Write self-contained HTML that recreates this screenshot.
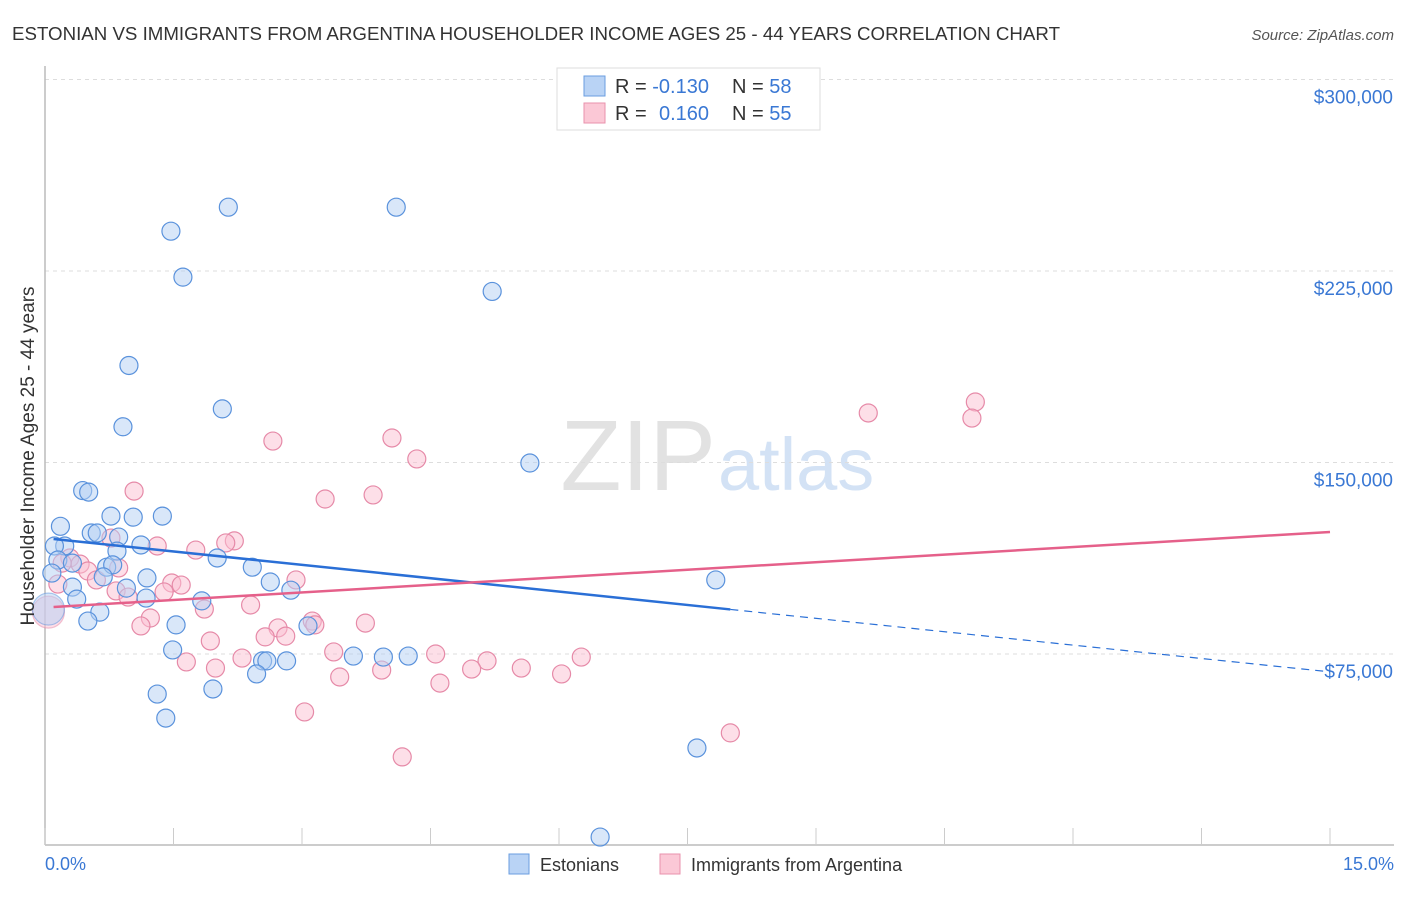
<!DOCTYPE html>
<html><head><meta charset="utf-8">
<style>
body{margin:0;background:#fff;font-family:"Liberation Sans",sans-serif;}
svg text{font-family:"Liberation Sans",sans-serif;}
</style></head>
<body>
<svg id="chart" width="1406" height="892" xmlns="http://www.w3.org/2000/svg">
<text x="12" y="40" font-size="18" fill="#333" textLength="1048" lengthAdjust="spacingAndGlyphs">ESTONIAN VS IMMIGRANTS FROM ARGENTINA HOUSEHOLDER INCOME AGES 25 - 44 YEARS CORRELATION CHART</text>
<text x="1394" y="40" font-size="15" fill="#555" font-style="italic" text-anchor="end">Source: ZipAtlas.com</text>
<text x="716" y="490" font-size="100" fill="#e2e2e2" font-family="Liberation Serif" text-anchor="end">ZIP</text>
<text x="718" y="490" font-size="74" fill="#d3e2f5">atlas</text>
<g id="grid"></g>
<g id="axes"></g>
<g id="pts"></g>
<g id="trend"></g>
<text transform="translate(34,456) rotate(-90)" font-size="19" fill="#333" text-anchor="middle">Householder Income Ages 25 - 44 years</text>
<text x="45" y="870" font-size="18" fill="#3a78d4">0.0%</text>
<text x="1394" y="870" font-size="18" fill="#3a78d4" text-anchor="end">15.0%</text>
<g>
<rect x="509" y="854" width="20" height="20" fill="#b9d3f5" stroke="#6a9ee0"/>
<text x="540" y="871" font-size="18" fill="#333">Estonians</text>
<rect x="660" y="854" width="20" height="20" fill="#fbc8d6" stroke="#e892ac"/>
<text x="691" y="871" font-size="18" fill="#333">Immigrants from Argentina</text>
</g>
<g>
<rect x="557" y="68" width="263" height="62" fill="#fff" stroke="#ddd"/>
<rect x="584" y="76" width="21" height="20" fill="#b9d3f5" stroke="#6a9ee0"/>
<text x="615" y="93" font-size="20" fill="#333">R = <tspan fill="#3a78d4">-0.130</tspan><tspan x="732">N = </tspan><tspan fill="#3a78d4">58</tspan></text>
<rect x="584" y="103" width="21" height="20" fill="#fbc8d6" stroke="#e892ac"/>
<text x="615" y="120" font-size="20" fill="#333">R = <tspan x="659" fill="#3a78d4">0.160</tspan><tspan x="732">N = </tspan><tspan fill="#3a78d4">55</tspan></text>
</g>
</svg>
<script>
const yTicks=[75000,150000,225000,300000];
const yTickLabels=["$75,000","$150,000","$225,000","$300,000"];
const blueX=[1.47,2.14,4.10,1.61,5.22,0.98,0.91,2.07,5.66,0.44,0.51,0.18,0.77,1.03,1.37,0.23,0.11,0.54,0.61,0.86,0.84,1.12,0.15,0.32,0.72,0.79,0.08,2.01,2.42,0.68,1.19,2.63,0.95,0.32,2.87,0.37,1.18,1.83,0.64,0.50,1.53,3.07,7.83,1.49,3.60,3.95,4.24,2.54,2.59,2.82,2.47,1.31,1.96,1.41,7.61,6.48,0.04];
const blueY=[240600,250000,250000,222600,217000,188000,164000,171000,149800,139000,138400,125000,129000,128600,129000,117300,117300,122400,122400,120800,115300,117700,111800,110600,109000,109900,106700,112600,109000,105200,104800,103200,100800,101200,100000,96500,96900,95800,91400,87900,86400,86000,104000,76600,74200,73800,74200,72300,72300,72300,67200,59300,61300,49900,38200,3300,92600];
const pinkX=[10.86,10.82,9.61,4.05,2.66,4.34,1.04,3.83,3.27,0.77,2.21,2.11,1.31,1.76,0.29,0.41,0.20,0.50,0.86,0.60,1.48,1.59,2.93,0.15,0.83,1.39,0.97,2.40,1.86,1.23,3.12,3.15,1.12,3.74,2.72,2.57,2.81,1.93,3.37,4.56,5.16,2.30,1.65,1.99,6.26,4.98,5.56,3.93,3.44,6.03,4.61,3.03,8.00,4.17,0.04];
const pinkY=[173700,167400,169400,159600,158400,151400,138800,137300,135700,120400,119300,118500,117300,115700,112600,110200,110600,107500,108700,104000,102800,102000,104000,102400,99700,99300,97300,94200,92600,89100,87900,86400,86000,87100,85200,81700,82000,80100,75800,75000,72300,73400,71900,69500,73800,69100,69500,68700,66000,67200,63600,52300,44100,34700,91400];
const blueTrend=[120400,68000], blueSolidEnd=8.0;
const pinkTrend=[93400,122800];
const NS="http://www.w3.org/2000/svg";
const xS=p=>45+p*(1330-45)/15;
const yS=v=>654-(v-75000)*191.5/75000;
function mk(tag,attrs,parent){const e=document.createElementNS(NS,tag);for(const k in attrs)e.setAttribute(k,attrs[k]);document.getElementById(parent).appendChild(e);return e;}
yTicks.forEach((t,i)=>{
 const l=mk('line',{x1:45,x2:1394,y1:yS(t),y2:yS(t),stroke:'#ddd','stroke-dasharray':'4,4'},'grid');
 
 
 const tx=mk('text',{x:1393,y:yS(t)+24,'font-size':19,fill:'#3a78d4','text-anchor':'end'},'grid');
 tx.textContent=yTickLabels[i];
 
 
});
const ax=mk('line',{x1:45,x2:1394,y1:845,y2:845,stroke:'#bbb','stroke-width':1.5},'axes');


const ay=mk('line',{x1:45,x2:45,y1:66,y2:845,stroke:'#bbb','stroke-width':1.5},'axes');


for(let i=0;i<=10;i++){const t=mk('line',{x1:xS(i*1.5),x2:xS(i*1.5),y1:828,y2:845,stroke:'#ccc'},'axes');
 
 }
function pts(X,Y,fill,stroke,name){X.forEach((x,i)=>{const big=(x<0.1&&i===X.length-1);
 const c=mk('circle',{cx:xS(x),cy:yS(Y[i]),r:big?16:9,fill:fill,'fill-opacity':0.5,stroke:stroke,'stroke-width':1.2,'stroke-opacity':big?0.5:1},'pts');
 
 });}
pts(pinkX,pinkY,'#fbc0d2','#e68aa8','argentina-point');
pts(blueX,blueY,'#b3cff3','#5a92dc','estonian-point');
const bv=p=>blueTrend[0]+(blueTrend[1]-blueTrend[0])*p/15;
const b1=mk('line',{x1:xS(0.1),y1:yS(bv(0.1)),x2:xS(blueSolidEnd),y2:yS(bv(blueSolidEnd)),stroke:'#2a6fd6','stroke-width':2.5},'trend');


const b2=mk('line',{x1:xS(blueSolidEnd),y1:yS(bv(blueSolidEnd)),x2:xS(15),y2:yS(bv(15)),stroke:'#2a6fd6','stroke-width':1.2,'stroke-dasharray':'8,6'},'trend');


const pl=mk('line',{x1:xS(0.1),y1:yS(pinkTrend[0]),x2:xS(15),y2:yS(pinkTrend[1]),stroke:'#e5608a','stroke-width':2.5},'trend');


</script>
</body></html>
